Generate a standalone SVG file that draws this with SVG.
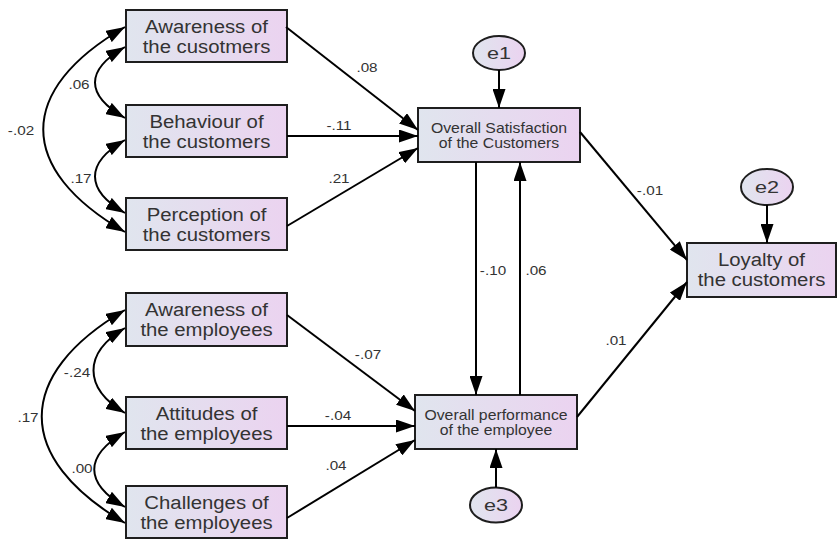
<svg xmlns="http://www.w3.org/2000/svg" width="840" height="539" viewBox="0 0 840 539">
<defs>
<linearGradient id="g" x1="0" y1="0" x2="1" y2="0">
<stop offset="0" stop-color="#e0e5ee"/>
<stop offset="1" stop-color="#ebd3f0"/>
</linearGradient>
<marker id="ah" markerUnits="userSpaceOnUse" markerWidth="19" markerHeight="13" viewBox="0 0 19 13" refX="19" refY="6.5" orient="auto-start-reverse">
<path d="M0,0 L19,6.5 L0,13 z" fill="#000"/>
</marker>
<style>
.box{fill:url(#g);stroke:#1e1e1e;stroke-width:2}
.t{font-family:"Liberation Sans",Arial,sans-serif;font-size:18px;fill:#333;text-anchor:middle}
.ts{font-size:14px}
.te{font-size:16px}
.lbl{font-family:"Liberation Sans",Arial,sans-serif;font-size:13.5px;fill:#333;text-anchor:middle}
.c{fill:none;stroke:#000;stroke-width:2}
.a{marker-end:url(#ah)}
.d{marker-start:url(#ah);marker-end:url(#ah)}
</style>
</defs>
<rect width="840" height="539" fill="#fff"/>

<g id="awareness-customers">
<rect class="box" x="126" y="10" width="161" height="52"/>
<text class="t" transform="matrix(1.13 0 0 1 206.5 0)" x="0" y="33">Awareness of</text>
<text class="t" transform="matrix(1.13 0 0 1 206.5 0)" x="0" y="53">the cusotmers</text>
</g>
<g id="behaviour-customers">
<rect class="box" x="126" y="105" width="161" height="52"/>
<text class="t" transform="matrix(1.13 0 0 1 206.5 0)" x="0" y="128">Behaviour of</text>
<text class="t" transform="matrix(1.13 0 0 1 206.5 0)" x="0" y="148">the customers</text>
</g>
<g id="perception-customers">
<rect class="box" x="126" y="198" width="161" height="52"/>
<text class="t" transform="matrix(1.13 0 0 1 206.5 0)" x="0" y="221">Perception of</text>
<text class="t" transform="matrix(1.13 0 0 1 206.5 0)" x="0" y="241">the customers</text>
</g>
<g id="awareness-employees">
<rect class="box" x="126" y="293" width="161" height="53"/>
<text class="t" transform="matrix(1.13 0 0 1 206.5 0)" x="0" y="316.5">Awareness of</text>
<text class="t" transform="matrix(1.13 0 0 1 206.5 0)" x="0" y="336.5">the employees</text>
</g>
<g id="attitudes-employees">
<rect class="box" x="126" y="397" width="161" height="52"/>
<text class="t" transform="matrix(1.13 0 0 1 206.5 0)" x="0" y="420">Attitudes of</text>
<text class="t" transform="matrix(1.13 0 0 1 206.5 0)" x="0" y="440">the employees</text>
</g>
<g id="challenges-employees">
<rect class="box" x="126" y="486" width="161" height="52"/>
<text class="t" transform="matrix(1.13 0 0 1 206.5 0)" x="0" y="509">Challenges of</text>
<text class="t" transform="matrix(1.13 0 0 1 206.5 0)" x="0" y="529">the employees</text>
</g>
<g id="overall-satisfaction">
<rect class="box" x="418" y="108" width="162" height="54"/>
<text class="t ts" transform="matrix(1.13 0 0 1 499 0)" x="0" y="133">Overall Satisfaction</text>
<text class="t ts" transform="matrix(1.13 0 0 1 499 0)" x="0" y="148">of the Customers</text>
</g>
<g id="overall-performance">
<rect class="box" x="415" y="395" width="162" height="54"/>
<text class="t ts" transform="matrix(1.13 0 0 1 496 0)" x="0" y="420">Overall performance</text>
<text class="t ts" transform="matrix(1.13 0 0 1 496 0)" x="0" y="435">of the employee</text>
</g>
<g id="loyalty">
<rect class="box" x="687" y="243" width="149" height="54"/>
<text class="t" transform="matrix(1.13 0 0 1 761.5 0)" x="0" y="266">Loyalty of</text>
<text class="t" transform="matrix(1.13 0 0 1 761.5 0)" x="0" y="286">the customers</text>
</g>
<g id="e1">
<ellipse class="box" cx="499" cy="53" rx="26" ry="17"/>
<text class="t te" transform="matrix(1.35 0 0 1 499 0)" x="0" y="59">e1</text>
</g>
<g id="e2">
<ellipse class="box" cx="767" cy="187" rx="26" ry="18"/>
<text class="t te" transform="matrix(1.35 0 0 1 767 0)" x="0" y="193">e2</text>
</g>
<g id="e3">
<ellipse class="box" cx="496" cy="505" rx="26" ry="17.5"/>
<text class="t te" transform="matrix(1.35 0 0 1 496 0)" x="0" y="511">e3</text>
</g>

<g id="connectors">
<path class="c a" d="M286,27 L418,130"/>
<path class="c a" d="M287,136 L418,136"/>
<path class="c a" d="M287,226 L418,148"/>
<path class="c a" d="M580,132 L687,260"/>
<path class="c a" d="M577,417 L687,282"/>
<path class="c a" d="M287,315 L415,411"/>
<path class="c a" d="M287,426 L415,426"/>
<path class="c a" d="M287,518 L415,440"/>
<path class="c a" d="M476,162 L476,395"/>
<path class="c a" d="M520,395 L520,162"/>
<path class="c a" d="M499,70 L499,108"/>
<path class="c a" d="M767,205 L767,243"/>
<path class="c a" d="M496,487.5 L496,449"/>
<path class="c d" d="M125,27 C16,90 16,169 125,232"/>
<path class="c d" d="M125,47 C85,70 85,95 125,118"/>
<path class="c d" d="M125,140 C85,163 85,190 125,213"/>
<path class="c d" d="M125,310 C14,375 14,458 125,523"/>
<path class="c d" d="M125,328 C83,353 83,388 125,413"/>
<path class="c d" d="M125,432 C84,456 84,483 125,507"/>
</g>

<g id="labels">
<text class="lbl" transform="matrix(1.13 0 0 1 367 0)" x="0" y="72">.08</text>
<text class="lbl" transform="matrix(1.13 0 0 1 339 0)" x="0" y="130">-.11</text>
<text class="lbl" transform="matrix(1.13 0 0 1 339 0)" x="0" y="183">.21</text>
<text class="lbl" transform="matrix(1.13 0 0 1 650 0)" x="0" y="195">-.01</text>
<text class="lbl" transform="matrix(1.13 0 0 1 493 0)" x="0" y="275">-.10</text>
<text class="lbl" transform="matrix(1.13 0 0 1 536 0)" x="0" y="275">.06</text>
<text class="lbl" transform="matrix(1.13 0 0 1 616 0)" x="0" y="345">.01</text>
<text class="lbl" transform="matrix(1.13 0 0 1 368 0)" x="0" y="359">-.07</text>
<text class="lbl" transform="matrix(1.13 0 0 1 338 0)" x="0" y="420">-.04</text>
<text class="lbl" transform="matrix(1.13 0 0 1 336 0)" x="0" y="470">.04</text>
<text class="lbl" transform="matrix(1.13 0 0 1 79 0)" x="0" y="89">.06</text>
<text class="lbl" transform="matrix(1.13 0 0 1 21 0)" x="0" y="135">-.02</text>
<text class="lbl" transform="matrix(1.13 0 0 1 81 0)" x="0" y="183">.17</text>
<text class="lbl" transform="matrix(1.13 0 0 1 77 0)" x="0" y="377">-.24</text>
<text class="lbl" transform="matrix(1.13 0 0 1 28 0)" x="0" y="422">.17</text>
<text class="lbl" transform="matrix(1.13 0 0 1 82 0)" x="0" y="473">.00</text>
</g>
</svg>
